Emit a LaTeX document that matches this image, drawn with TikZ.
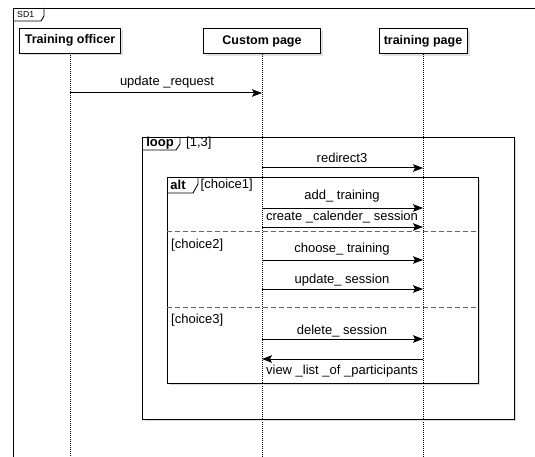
\documentclass[tikz,border=0pt]{standalone}
\usepackage{fontspec}
\setmainfont{Liberation Sans}
\usetikzlibrary{arrows.meta,shadows}
\begin{document}
\begin{tikzpicture}[x=1pt,y=-1pt,
  head/.style={draw, line width=0.9pt, fill=white, minimum height=25pt, inner sep=0pt,
    font=\fontsize{12.5}{14}\selectfont\bfseries,
    drop shadow={shadow xshift=2.5pt, shadow yshift=-2.5pt, fill=black!12, opacity=1}},
  life/.style={line width=0.8pt, dash pattern=on 1pt off 1pt},
  msg/.style={line width=1pt, -{Stealth[length=10pt,width=7.5pt,inset=2pt]}},
  lbl/.style={font=\fontsize{13}{15}\selectfont, inner sep=0pt},
  tablbl/.style={font=\fontsize{13}{15}\selectfont\bfseries, inner sep=0pt},
  frm/.style={line width=0.9pt},
  fragbox/.style={draw, line width=0.9pt, anchor=north west, inner sep=0pt},
  sep/.style={line width=0.9pt, dash pattern=on 5pt off 3pt, black!60}]
\useasboundingbox (0,0) rectangle (535,457);
\clip (0,0) rectangle (535,457);
% outer frame
\draw[frm] (13,470) -- (13,8) -- (545,8);
\draw[frm] (13,21) -- (41,21) -- (44,16) -- (44,8);
\node[anchor=west, inner sep=0pt, font=\fontsize{8.7}{10}\selectfont] (sd) at (17,14.5) {SD1};
% lifeline heads
\node[head, minimum width=101pt] (to) at (70,40.5) {Training officer};
\node[head, minimum width=117pt] (cp) at (262,41) {Custom page};
\node[head, minimum width=88pt] (tp) at (423,41) {training page};
% lifelines
\draw[life] (to.south) -- (to |- 0,460);
\draw[life] (cp.south) -- (cp |- 0,460);
\draw[life] (tp.south) -- (tp |- 0,460);
% loop fragment
\draw[black!15, line width=1.5pt] (145,420.5) -- (515.5,420.5) -- (515.5,140);
\node[fragbox, minimum width=372pt, minimum height=282pt] (loop) at (142,137) {};
\draw[frm] (142,150) -- (176,150) -- (180,144) -- (180,137);
\node[tablbl] (looplbl) at (160,143.5) {loop};
\node[lbl, anchor=west] (loopg) at (186,143.5) {[1,3]};
% alt fragment
\draw[black!15, line width=1.5pt] (170,384.5) -- (479.5,384.5) -- (479.5,180);
\node[fragbox, minimum width=311pt, minimum height=206pt] (alt) at (167,177) {};
\draw[frm] (167,193) -- (193,193) -- (198,184) -- (198,177);
\node[tablbl] (altlbl) at (178,185) {alt};
\node[lbl, anchor=west] (c1) at (200.5,185) {[choice1]};
\draw[sep] (alt.west |- 0,231) -- (alt.east |- 0,231);
\draw[sep] (alt.west |- 0,307) -- (alt.east |- 0,307);
\node[lbl, anchor=west] (c2) at (171,245) {[choice2]};
\node[lbl, anchor=west] (c3) at (171,320) {[choice3]};
% messages
\draw[msg] (to |- 0,93) -- (cp |- 0,93);
\node[lbl] (m1) at (167,82) {update \_request};
\draw[msg] (cp |- 0,168) -- (tp |- 0,168);
\node[lbl] (m2) at (342,158) {redirect3};
\draw[msg] (cp |- 0,208) -- (tp |- 0,208);
\node[lbl] (m3) at (342,196) {add\_ training};
\draw[msg] (cp |- 0,227) -- (tp |- 0,227);
\node[lbl] (m4) at (342,217.5) {create \_calender\_ session};
\draw[msg] (cp |- 0,260) -- (tp |- 0,260);
\node[lbl] (m5) at (342,249.5) {choose\_ training};
\draw[msg] (cp |- 0,289) -- (tp |- 0,289);
\node[lbl] (m6) at (342,280) {update\_ session};
\draw[msg] (cp |- 0,339) -- (tp |- 0,339);
\node[lbl] (m7) at (342,331) {delete\_ session};
\draw[msg] (tp |- 0,359) -- (cp |- 0,359);
\node[lbl] (m8) at (342,371) {view \_list \_of \_participants};
\end{tikzpicture}
\end{document}
